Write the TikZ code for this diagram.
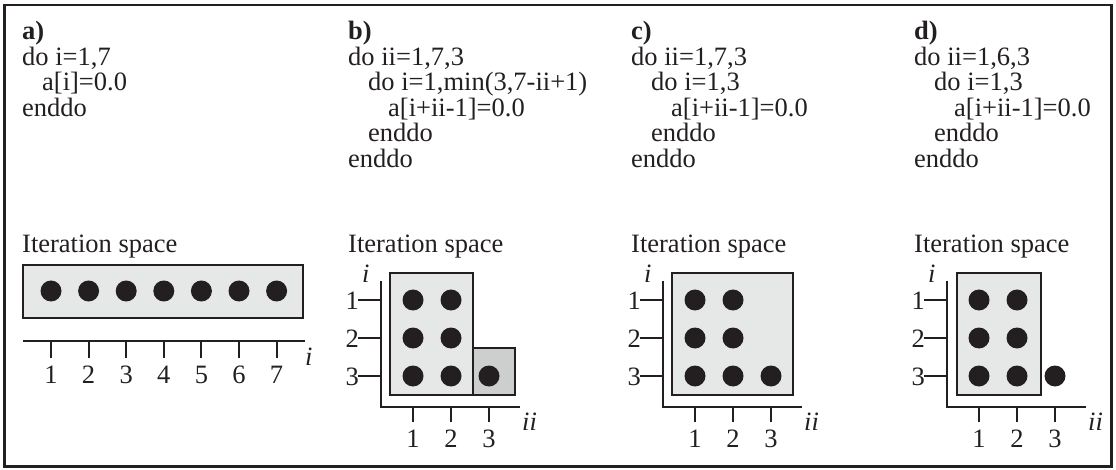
\documentclass[tikz,border=0pt]{standalone}
\usepackage{fontspec}
\setmainfont{Liberation Serif}
\definecolor{ink}{RGB}{35,31,32}
\definecolor{light}{RGB}{230,232,232}
\definecolor{darkbox}{RGB}{205,207,207}
\tikzset{
  txt/.style={anchor=base west, inner sep=0pt, text=ink, font=\fontsize{26.5}{26.5}\selectfont},
  num/.style={anchor=base, inner sep=0pt, text=ink, font=\fontsize{26.5}{26.5}\selectfont},
  rnum/.style={anchor=base east, inner sep=0pt, text=ink, font=\fontsize{26.5}{26.5}\selectfont},
  dot/.style={circle, fill=ink, draw=none, minimum size=21pt, inner sep=0pt},
  region/.style={draw=ink, line width=2pt, fill=light},
  region2/.style={draw=ink, line width=2pt, fill=darkbox},
  axis/.style={draw=ink, line width=2pt},
}
\begin{document}
\begin{tikzpicture}[x=1pt, y=-1pt]
\useasboundingbox (0,0) rectangle (1116,470);
\draw[ink, line width=2.2pt] (4.5,5) rectangle (1111.5,466.5);

% ---------- panel a ----------
\node[txt] (la) at (22,40) {\textbf{a)}};
\node[txt] (a1) at (22,66) {do i=1,7};
\node[txt] (a2) at (42,91) {a[i]=0.0};
\node[txt] (a3) at (22,117) {enddo};
\node[txt] (ia) at (22,253) {Iteration space};
\draw[region] (23,265) rectangle (303,318);
\draw[axis] (23,341) -- (305,341);
\foreach \k in {1,...,7}{
  \pgfmathsetmacro{\xx}{51+37.6*(\k-1)}
  \node[dot] (ad\k) at (\xx,291) {};
  \draw[axis] (\xx,341) -- (\xx,358);
  \node[num] (an\k) at (\xx,383) {\k};
}
\node[txt] (ai) at (305,365) {\textit{i}};

% ---------- panels b, c, d: code ----------
\node[txt] (lb) at (348,40) {\textbf{b)}};
\node[txt] (b1) at (348,66) {do ii=1,7,3};
\node[txt] (b2) at (368,91) {do i=1,min(3,7-ii+1)};
\node[txt] (b3) at (388,117) {a[i+ii-1]=0.0};
\node[txt] (b4) at (368,142) {enddo};
\node[txt] (b5) at (348,168) {enddo};
\node[txt] (ib) at (348,253) {Iteration space};

\node[txt] (lc) at (631,40) {\textbf{c)}};
\node[txt] (c1) at (631,66) {do ii=1,7,3};
\node[txt] (c2) at (651,91) {do i=1,3};
\node[txt] (c3) at (671,117) {a[i+ii-1]=0.0};
\node[txt] (c4) at (651,142) {enddo};
\node[txt] (c5) at (631,168) {enddo};
\node[txt] (ic) at (631,253) {Iteration space};

\node[txt] (ld) at (914,40) {\textbf{d)}};
\node[txt] (d1) at (914,66) {do ii=1,6,3};
\node[txt] (d2) at (934,91) {do i=1,3};
\node[txt] (d3) at (954,117) {a[i+ii-1]=0.0};
\node[txt] (d4) at (934,142) {enddo};
\node[txt] (d5) at (914,168) {enddo};
\node[txt] (id) at (914,253) {Iteration space};

% ---------- regions ----------
\draw[region] (390,273) rectangle (473,395);
\draw[region2] (473,348) rectangle (515,395);
\draw[region] (672,273) rectangle (793,395);
\draw[region] (957,273) rectangle (1041,395);

% ---------- axes for b, c, d ----------
\foreach \p/\xo in {b/381, c/663, d/947}{
  \draw[axis] (\xo,281) -- (\xo,407) -- (\xo+139,407);
  \foreach \r/\yy in {1/300, 2/338, 3/376}{
    \draw[axis] (\xo-23,\yy) -- (\xo,\yy);
    \node[rnum] (\p r\r) at (\xo-22,\yy+9) {\r};
  }
  \foreach \c/\dx in {1/32, 2/70, 3/108}{
    \draw[axis] (\xo+\dx,407) -- (\xo+\dx,422);
    \node[num] (\p n\c) at (\xo+\dx,447) {\c};
  }
  \node[txt] (\p i) at (\xo-19,283) {\textit{i}};
  \node[txt] (\p ii) at (\xo+141,430) {\textit{ii}};
}

% ---------- dots ----------
\foreach \p/\xo in {b/381, c/663, d/947}{
  \foreach \c/\dx in {1/32, 2/70}{
    \foreach \r/\yy in {1/300, 2/338, 3/376}{
      \node[dot] (\p d\c\r) at (\xo+\dx,\yy) {};
    }
  }
  \node[dot] (\p d33) at (\xo+108,376) {};
}
\end{tikzpicture}
\end{document}
